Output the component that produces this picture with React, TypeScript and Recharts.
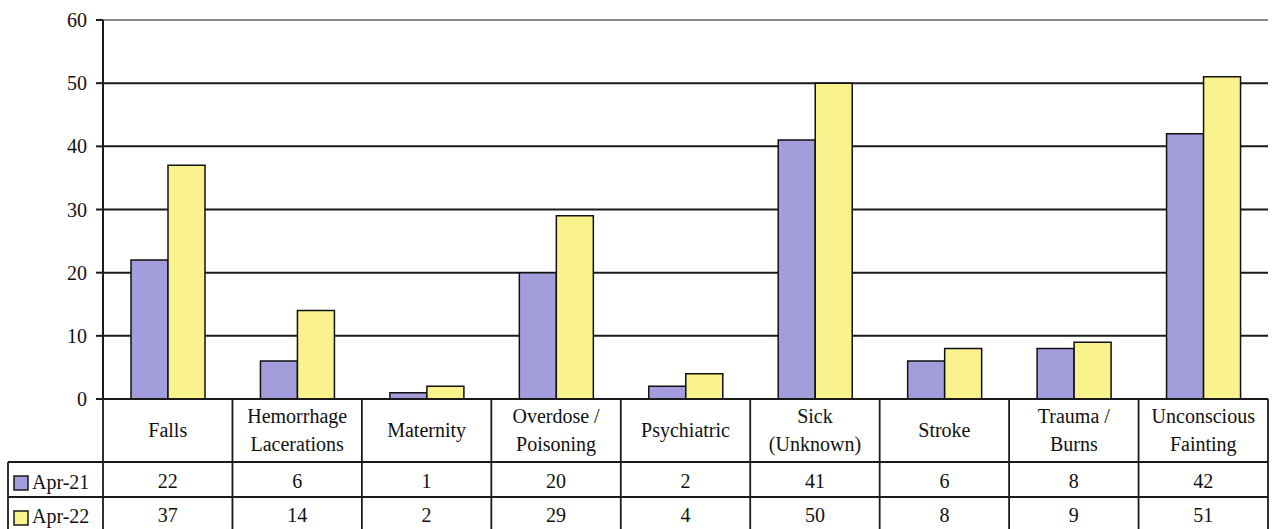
import React from "react";
import { BarChart, Bar, XAxis, YAxis, CartesianGrid, ReferenceLine } from "recharts";

const categories = [
  "Falls",
  "Hemorrhage\nLacerations",
  "Maternity",
  "Overdose /\nPoisoning",
  "Psychiatric",
  "Sick\n(Unknown)",
  "Stroke",
  "Trauma /\nBurns",
  "Unconscious\nFainting",
];
const apr21 = [22, 6, 1, 20, 2, 41, 6, 8, 42];
const apr22 = [37, 14, 2, 29, 4, 50, 8, 9, 51];
const seriesNames = ["Apr-21", "Apr-22"];
const yTicks = [0, 10, 20, 30, 40, 50, 60];

const data = categories.map((name, i) => ({
  name,
  a: apr21[i],
  b: apr22[i],
}));

const FONT = "Liberation Serif, Tinos, Times New Roman, DejaVu Serif, serif";
const PURPLE = "#a39ddb";
const YELLOW = "#faf28c";
const LINE = "#1a1a1a";

// x axis tick draws one column of the data table under the bars
function TableTick(props: any) {
  const { x, y, payload } = props;
  const i = payload.index;
  const half = payload.offset || (1268 - 103) / 9 / 2;
  const left = x - half;
  const right = x + half;
  const lines = String(payload.value).split("\n");
  const r1 = y + 63;
  const r2 = y + 98;
  const r3 = y + 133;
  const txt = { fontFamily: FONT, fontSize: 20, fill: "#111", textAnchor: "middle" as const };

  return (
    <g>
      {i === 0 && (
        <g>
          <line x1={left} y1={y} x2={left} y2={r3 + 10} stroke={LINE} strokeWidth={1.8} />
          <line x1={8} y1={r1} x2={8} y2={r3 + 10} stroke={LINE} strokeWidth={1.8} />
          <line x1={8} y1={r1} x2={left} y2={r1} stroke={LINE} strokeWidth={1.8} />
          <line x1={8} y1={r2} x2={left} y2={r2} stroke={LINE} strokeWidth={1.8} />
          <line x1={8} y1={r3} x2={left} y2={r3} stroke={LINE} strokeWidth={1.8} />
          <rect x={14} y={y + 77} width={14} height={14} fill={PURPLE} stroke={LINE} strokeWidth={1.5} />
          <rect x={14} y={y + 112} width={14} height={14} fill={YELLOW} stroke={LINE} strokeWidth={1.5} />
          <text x={32} y={y + 90} fontFamily={FONT} fontSize={20} fill="#111">
            {seriesNames[0]}
          </text>
          <text x={32} y={y + 124} fontFamily={FONT} fontSize={20} fill="#111">
            {seriesNames[1]}
          </text>
        </g>
      )}
      <line x1={right} y1={y} x2={right} y2={r3 + 10} stroke={LINE} strokeWidth={1.8} />
      <line x1={left} y1={r1} x2={right} y2={r1} stroke={LINE} strokeWidth={1.8} />
      <line x1={left} y1={r2} x2={right} y2={r2} stroke={LINE} strokeWidth={1.8} />
      <line x1={left} y1={r3} x2={right} y2={r3} stroke={LINE} strokeWidth={1.8} />
      {lines.length === 1 ? (
        <text x={x} y={y + 38} {...txt}>{lines[0]}</text>
      ) : (
        lines.map((l, k) => (
          <text key={k} x={x} y={y + 24 + k * 28} {...txt}>{l}</text>
        ))
      )}
      <text x={x} y={y + 89} {...txt}>{apr21[i]}</text>
      <text x={x} y={y + 123} {...txt}>{apr22[i]}</text>
    </g>
  );
}

export default function App() {
  return (
    <div style={{ position: "fixed", top: 0, left: 0, background: "#fff", fontFamily: FONT }}>
      <BarChart
        width={1277}
        height={529}
        data={data}
        margin={{ top: 20, right: 9, bottom: 0, left: 0 }}
        barGap={0}
        barSize={37}
        style={{ fontFamily: FONT }}
      >
        <CartesianGrid vertical={false} stroke={LINE} strokeWidth={2} />
        <XAxis
          dataKey="name"
          height={130}
          interval={0}
          tickLine={false}
          tickSize={0}
          tickMargin={0}
          axisLine={{ stroke: LINE, strokeWidth: 2 }}
          tick={<TableTick />}
        />
        <YAxis
          width={103}
          domain={[0, 60]}
          ticks={yTicks}
          interval={0}
          tickSize={7}
          tickMargin={9}
          tickLine={{ stroke: LINE, strokeWidth: 2 }}
          axisLine={{ stroke: LINE, strokeWidth: 2 }}
          tick={{ fill: "#111", fontSize: 20, fontFamily: FONT }}
        />
        <YAxis
          yAxisId="r"
          orientation="right"
          width={0}
          domain={[0, 60]}
          tick={false}
          tickLine={false}
          axisLine={{ stroke: "#8a8a8a", strokeWidth: 1.5 }}
        />
        <ReferenceLine y={60} stroke="#8a8a8a" strokeWidth={2} />
        <Bar dataKey="a" name={seriesNames[0]} fill={PURPLE} stroke="#111" strokeWidth={1.5} isAnimationActive={false} />
        <Bar dataKey="b" name={seriesNames[1]} fill={YELLOW} stroke="#111" strokeWidth={1.5} isAnimationActive={false} />
      </BarChart>
    </div>
  );
}
